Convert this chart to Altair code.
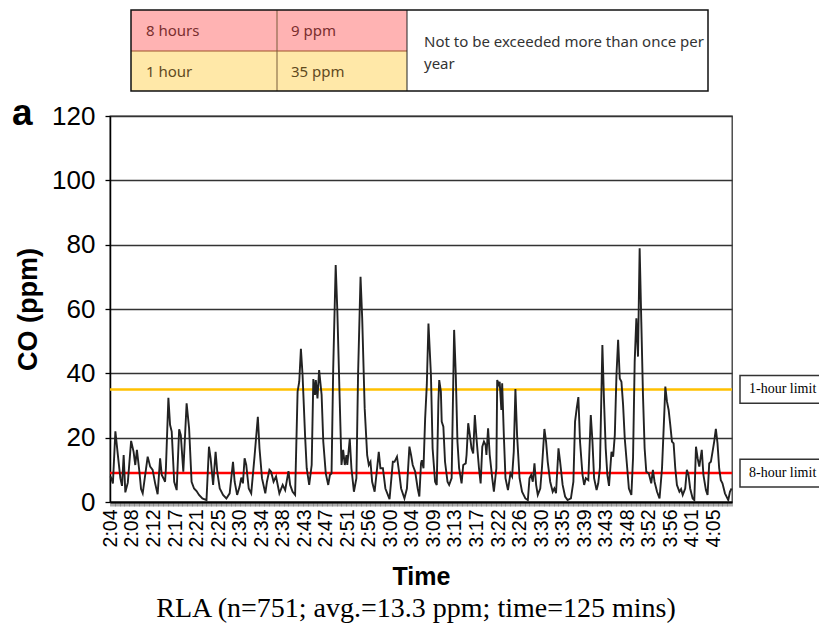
import json
import altair as alt
import pandas as pd

# ---- data ----
# sample number of the 10-second CO readings (vertices of the trace) and CO in ppm
sample = [0, 1, 3, 6, 9, 12, 14, 16, 18, 21, 25, 28, 30, 32, 35, 37, 39, 42, 45, 48,
          51, 54, 57, 60, 62, 64, 66, 67, 70, 72, 74, 77, 80, 83, 85, 88, 92, 95, 98, 101,
          104, 107, 111, 116, 119, 121, 124, 127, 129, 132, 136, 140, 144, 148, 150, 153, 156, 158, 160, 162,
          164, 167, 170, 174, 178, 180, 183, 187, 189, 192, 194, 197, 200, 202, 204, 208, 211, 215, 217, 220,
          223, 226, 228, 230, 232, 235, 237, 240, 243, 245, 247, 248, 250, 252, 255, 257, 260, 263, 265, 267,
          269, 272, 274, 277, 279, 281, 283, 285, 286, 289, 291, 294, 297, 299, 302, 304, 307, 310, 312, 314,
          316, 319, 322, 324, 326, 329, 332, 337, 341, 343, 346, 349, 351, 355, 358, 361, 363, 365, 368, 371,
          373, 375, 376, 378, 380, 382, 384, 387, 389, 392, 394, 396, 397, 399, 400, 402, 404, 407, 409, 412,
          415, 417, 419, 421, 424, 426, 429, 430, 432, 434, 436, 438, 440, 442, 445, 447, 449, 451, 453, 454,
          456, 458, 461, 463, 466, 467, 469, 470, 472, 473, 475, 477, 480, 483, 485, 487, 489, 491, 494, 497,
          501, 504, 506, 508, 510, 512, 514, 516, 519, 521, 524, 526, 528, 531, 534, 536, 538, 541, 543, 546,
          549, 552, 556, 559, 561, 563, 565, 567, 570, 572, 574, 577, 580, 582, 584, 587, 589, 591, 594, 596,
          598, 600, 602, 605, 607, 609, 611, 613, 615, 617, 619, 621, 624, 626, 629, 631, 633, 635, 637, 638,
          639, 641, 643, 645, 647, 650, 653, 655, 657, 660, 663, 666, 669, 670, 672, 674, 676, 678, 680, 682,
          684, 687, 689, 691, 694, 696, 698, 700, 703, 705, 707, 709, 711, 714, 716, 719, 721, 723, 725, 727,
          729, 731, 733, 735, 737, 739, 742, 746, 748, 750]
co_ppm = [8, 7.4, 5.8, 22, 14.6, 7.4, 5, 14.6, 3, 6, 19, 15.6, 11.5, 16.2, 9.4, 4, 2.7, 8.4, 14.1, 11,
          10, 5.8, 2.4, 13.6, 8.4, 7.4, 6.3, 10.5, 32.4, 24, 21.9, 6.3, 3.7, 22.6, 20.8, 9.4, 30.7, 22.9, 6.3, 4.2,
          3.4, 2.2, 1.1, 0.6, 17.2, 13.6, 5.3, 15.6, 9.4, 4.2, 2.2, 1.1, 2.7, 12.5, 6.3, 2.2, 4.8, 7.6, 5.8, 13.6,
          11.5, 4.2, 2.7, 14.1, 26.5, 16.7, 7.4, 2.7, 6.3, 10, 9.4, 6.3, 7.9, 5.3, 2.7, 5.3, 3.7, 9.6, 5.3, 3.2,
          2.2, 34.3, 37.4, 47.6, 39.5, 20.8, 10.5, 5.3, 11.5, 38.2, 33.3, 37.9, 32.2, 41, 33.3, 18.8, 8.9, 5.3, 8.4, 8.9,
          41.6, 73.7, 59.2, 30.2, 11.5, 16.2, 11.5, 14.6, 11.5, 19.6, 10.5, 3.2, 7.4, 39.5, 70, 57.1, 29.1, 14.6, 11.5, 12.5,
          6.3, 3.2, 10.5, 15.6, 10.5, 10.5, 4.2, 0.9, 12.5, 12.5, 14.1, 8.4, 4.2, 1.1, 4.2, 17.2, 14.6, 11.5, 9.4, 4.2,
          1.7, 12, 13, 10.5, 26, 36.4, 55.5, 39.5, 16.7, 6.3, 5.3, 31.2, 37.9, 34.3, 25, 23.4, 12.5, 6.3, 5.3, 7.4,
          53.5, 39.5, 18.8, 10.5, 5.8, 11.5, 12, 14.6, 24.5, 20.8, 16.7, 15.1, 27, 19.8, 10.5, 5.8, 17.2, 18.8, 17.7, 14.6,
          22.9, 14.6, 7.4, 3.2, 10.5, 37.9, 36.4, 37.4, 28.6, 36.9, 20.8, 7.4, 3.7, 8.9, 7.9, 15.6, 35.1, 20.8, 7.4, 3.2,
          1.1, 0.6, 7.4, 8.4, 6.3, 12, 5.3, 2.2, 4.2, 10.5, 22.7, 18.8, 12.5, 6.3, 3.2, 4.2, 2.7, 16.7, 12.5, 5.3,
          1.7, 0.6, 1.1, 6.3, 25, 29.1, 32.6, 18.8, 8.4, 5.3, 7.4, 6.8, 27, 18.8, 7.4, 3.7, 5.8, 10.5, 48.8, 31.2,
          16.7, 8.4, 5, 15.6, 14.1, 20.8, 39.5, 50.4, 38.4, 37.4, 30.2, 19.8, 10.5, 4.2, 2.2, 13.6, 43.6, 57.1, 45.2, 62.3,
          78.9, 56, 33.3, 16.7, 9.4, 8.9, 5.8, 10, 6.3, 3.2, 1.1, 10.5, 29.1, 35.9, 31.2, 28.6, 23.9, 18.8, 18.2, 10.5,
          5.3, 3.2, 4, 2.2, 4.2, 10, 8.4, 4.2, 1.1, 0.6, 17.2, 13.6, 11, 16.2, 8.4, 3.7, 2.2, 12, 12.5, 15.6,
          18.8, 22.7, 18.2, 10.5, 6.8, 5.8, 2.7, 0.6, 3.2, 4.2]

tick_labels = ["2:04", "2:08", "2:12", "2:17", "2:21", "2:25", "2:30", "2:34", "2:38", "2:43",
               "2:47", "2:51", "2:56", "3:00", "3:04", "3:09", "3:13", "3:17", "3:22", "3:26",
               "3:30", "3:35", "3:39", "3:43", "3:48", "3:52", "3:56", "4:01", "4:05"]
y_ticks = [0, 20, 40, 60, 80, 100, 120]

limit_values = [35, 9]
limit_names = ["1-hour limit", "8-hour limit"]
limit_colors = ["#ffc000", "#ff0000"]

table_period = ["8 hours", "1 hour"]
table_level = ["9 ppm", "35 ppm"]
table_note = ["Not to be exceeded more than once per", "year"]

caption = "RLA (n=751; avg.=13.3 ppm; time=125 mins)"
panel_letter = "a"

# ---- chart ----
df = pd.DataFrame({"sample": sample, "co": co_ppm})
limits = pd.DataFrame({"co": limit_values, "name": limit_names})

W, H = 622, 386
n_samples = 751
xscale = alt.Scale(domain=[-0.5, n_samples - 0.5], nice=False, zero=False)
yscale = alt.Scale(domain=[0, 120], nice=False)

label_expr = ("datum.value % 26 == 0 ? " + json.dumps(tick_labels) +
              "[datum.value / 26] : ''")

x_axis = alt.Axis(values=list(range(n_samples)), labelExpr=label_expr, labelAngle=270,
                  labelOverlap=False, labelBound=False, labelFlush=False,
                  labelFont="Liberation Sans", labelFontSize=19.5, labelColor="#000",
                  labelPadding=3, tickSize=4, tickWidth=0.6, tickColor="#777",
                  domainColor="#000", domainWidth=2.2, grid=False,
                  title="Time", titleFont="Liberation Sans", titleFontSize=25,
                  titleFontWeight="bold", titleColor="#000", titlePadding=18)
y_axis = alt.Axis(values=y_ticks, labelFont="Liberation Sans", labelFontSize=26,
                  labelColor="#000", labelPadding=10, tickSize=5, tickColor="#000",
                  tickWidth=1.3, domainColor="#000", domainWidth=1.5,
                  grid=True, gridColor="#333", gridWidth=1.3,
                  title="CO (ppm)", titleFont="Liberation Sans", titleFontSize=27,
                  titleFontWeight="bold", titleColor="#000", titlePadding=9)

line = alt.Chart(df).mark_line(color="#222", strokeWidth=1.9).encode(
    x=alt.X("sample:Q", scale=xscale, axis=x_axis),
    y=alt.Y("co:Q", scale=yscale, axis=y_axis),
)

rules = alt.Chart(limits).mark_rule(strokeWidth=2.5).encode(
    y=alt.Y("co:Q", scale=yscale),
    color=alt.Color("name:N", scale=alt.Scale(domain=limit_names, range=limit_colors), legend=None),
    x=alt.value(0), x2=alt.value(W),
)

# label boxes beside the plot, centred on each limit (half-height in ppm units)
boxes = alt.Chart(limits).transform_calculate(
    top="datum.co + 4.3", bot="datum.co - 4.3"
).mark_rect(fill="#fff", stroke="#333", strokeWidth=1.5).encode(
    x=alt.value(630), x2=alt.value(790),
    y=alt.Y("top:Q", scale=yscale), y2="bot:Q",
)

box_text = alt.Chart(limits).mark_text(
    align="left", baseline="middle", font="Liberation Serif", fontSize=14, color="#000"
).encode(x=alt.value(639), y=alt.Y("co:Q", scale=yscale), text="name:N")

one = alt.Data(values=[{"k": 0}])

def rect(x0, x1, y0, y1, **kw):
    return alt.Chart(one).mark_rect(**kw).encode(
        x=alt.value(x0), x2=alt.value(x1), y=alt.value(y0), y2=alt.value(y1))

def text(s, x, y, **kw):
    return alt.Chart(one).mark_text(**kw).encode(
        x=alt.value(x), y=alt.value(y), text=alt.value(s))

cx = [21, 167, 297, 598]
ry = [-106, -65, -25]
tfont = dict(font="Noto Sans", fontSize=15, align="left", baseline="middle")

table = [
    rect(cx[0], cx[2], ry[0], ry[1], fill="#ffb3b3"),
    rect(cx[0], cx[2], ry[1], ry[2], fill="#ffe8a8"),
    rect(cx[2], cx[3], ry[0], ry[2], fill="#ffffff"),
    rect(cx[0], cx[2], ry[1] - 0.6, ry[1] + 0.6, fill="#a0522d"),
    rect(cx[1] - 0.5, cx[1] + 0.5, ry[0], ry[2], fill="#7a5c3a"),
    rect(cx[2] - 0.5, cx[2] + 0.5, ry[0], ry[2], fill="#222"),
    rect(cx[0], cx[3], ry[0], ry[2], fill="transparent", stroke="#111", strokeWidth=1.5),
    text(table_period[0], 36, -85, color="#7a2e2e", **tfont),
    text(table_level[0], 181, -85, color="#7a2e2e", **tfont),
    text(table_period[1], 36, -44, color="#5f4a1e", **tfont),
    text(table_level[1], 181, -44, color="#5f4a1e", **tfont),
    text(table_note[0], 314, -74, color="#333", **tfont),
    text(table_note[1], 314, -52, color="#333", **tfont),
]

letter = text(panel_letter, -98, 9, font="Liberation Sans", fontSize=37, fontWeight="bold",
              align="left", baseline="alphabetic", color="#000")
cap = text(caption, 306, 501, font="Liberation Serif", fontSize=28, align="center",
           baseline="alphabetic", color="#000")

chart = alt.layer(rules, line, boxes, box_text, *table, letter, cap).properties(
    width=W, height=H,
    padding={"left": 102, "top": 108, "right": 87, "bottom": 123},
    autosize=alt.AutoSizeParams(type="none"),
).configure_view(stroke="#333", strokeWidth=1.3)

chart.save("out.html", embed_options={"renderer": "svg", "actions": False})
